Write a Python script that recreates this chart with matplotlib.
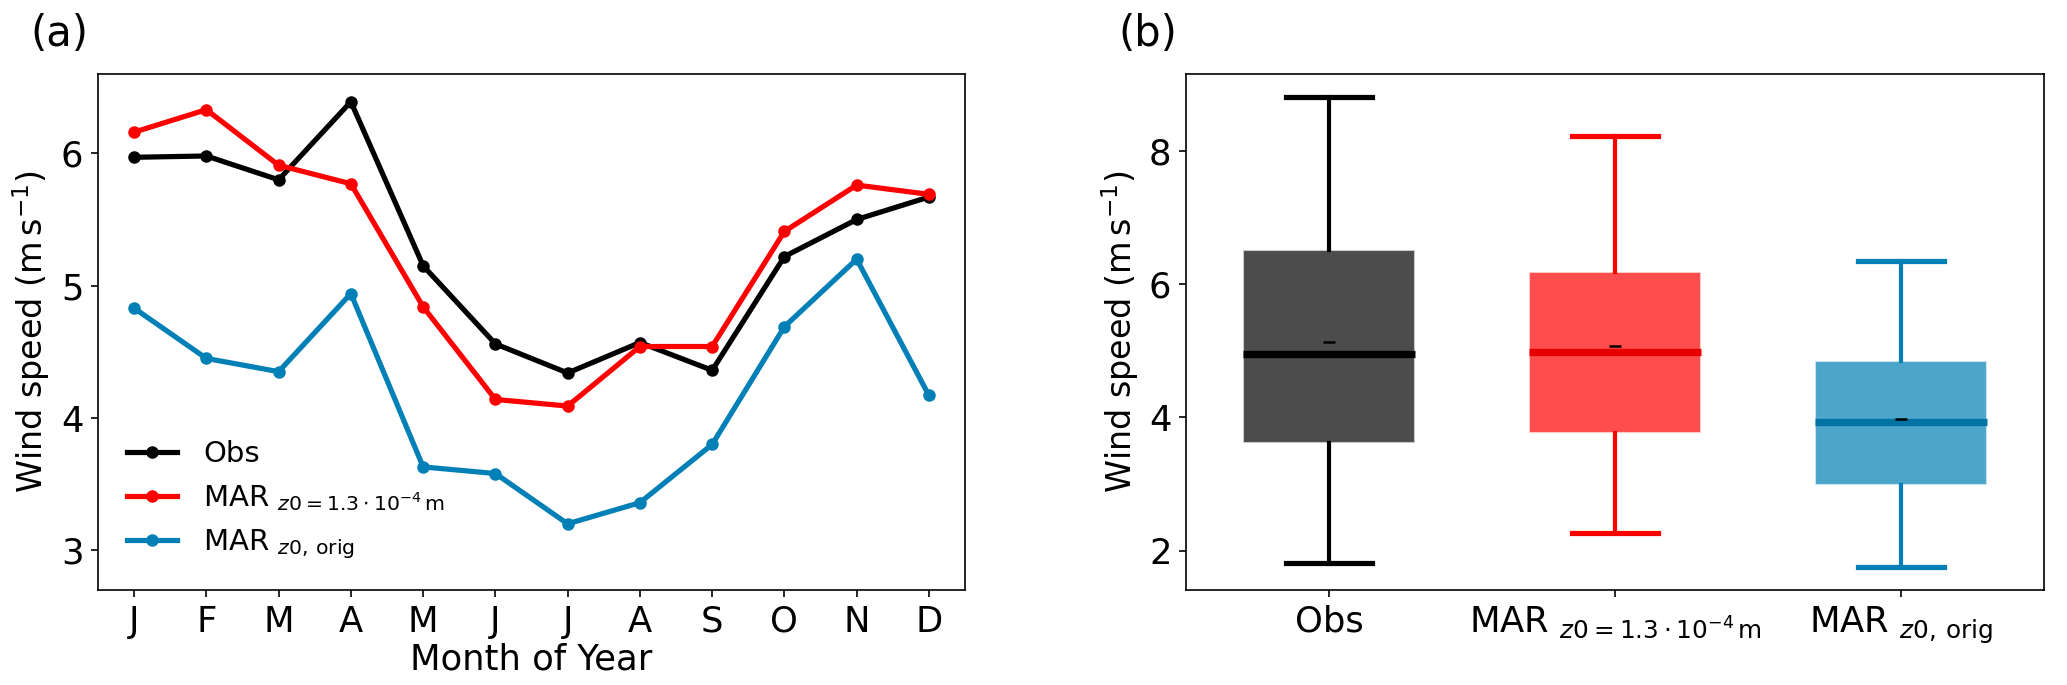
import matplotlib.pyplot as plt
import numpy as np

# monthly mean wind speed (m/s)
months = ['J', 'F', 'M', 'A', 'M', 'J', 'J', 'A', 'S', 'O', 'N', 'D']
obs = [5.97, 5.98, 5.80, 6.39, 5.15, 4.56, 4.34, 4.57, 4.36, 5.22, 5.50, 5.67]
mar_new = [6.16, 6.33, 5.91, 5.77, 4.84, 4.14, 4.09, 4.54, 4.54, 5.41, 5.76, 5.69]
mar_orig = [4.83, 4.45, 4.35, 4.94, 3.63, 3.58, 3.20, 3.36, 3.80, 4.69, 5.20, 4.17]

# box statistics: whisker low, q1, median, q3, whisker high, mean
box_names = ['Obs', 'MAR $_{z0=1.3\\cdot10^{-4}\\,\\mathrm{m}}$', 'MAR $_{z0,\\,\\mathrm{orig}}$']
whislo = [1.82, 2.27, 1.76]
q1 = [3.62, 3.76, 2.99]
med = [4.95, 4.98, 3.93]
q3 = [6.51, 6.18, 4.85]
whishi = [8.80, 8.22, 6.35]
means = [5.13, 5.07, 3.98]

colors = ['black', '#ff0000', '#0080b6']
median_colors = ['black', '#e60000', '#0073a3']

fig = plt.figure(figsize=(13.78, 4.567), dpi=150)
ax1 = fig.add_axes([0.0474, 0.1387, 0.4195, 0.7533])
ax2 = fig.add_axes([0.5738, 0.1387, 0.4151, 0.7533])

# (a) seasonal cycle
x = np.arange(1, 13)
ax1.plot(x, obs, '-o', color=colors[0], lw=2.5, ms=5, label='Obs')
ax1.plot(x, mar_new, '-o', color=colors[1], lw=2.5, ms=5, label=box_names[1])
ax1.plot(x, mar_orig, '-o', color=colors[2], lw=2.5, ms=5, label=box_names[2])
ax1.set_xticks(x)
ax1.set_xticklabels(months)
ax1.set_xlim(0.5, 12.5)
ax1.set_ylim(2.7, 6.6)
ax1.set_yticks([3, 4, 5, 6])
ax1.set_xlabel('Month of Year', fontsize=17, labelpad=2)
ax1.set_ylabel('Wind speed (m$\\,$s$^{-1}$)', fontsize=16)
ax1.tick_params(labelsize=17)
ax1.legend(loc='lower left', frameon=False, fontsize=14, borderaxespad=0.6,
           handlelength=1.7, handletextpad=0.9, labelspacing=0.5)

# (b) distribution
stats = []
for i in range(3):
    stats.append(dict(whislo=whislo[i], q1=q1[i], med=med[i], q3=q3[i],
                      whishi=whishi[i], mean=means[i], fliers=[]))
for i, st in enumerate(stats):
    ax2.bxp([st], positions=[i + 1], widths=0.6, patch_artist=True,
            showmeans=True, showfliers=False,
            boxprops=dict(facecolor=colors[i], alpha=0.7, edgecolor='white', linewidth=1),
            whiskerprops=dict(color=colors[i], lw=2),
            capprops=dict(color=colors[i], lw=2.5),
            medianprops=dict(color=median_colors[i], lw=3.5),
            meanprops=dict(marker='_', markersize=6, markeredgecolor='black',
                           markeredgewidth=1.2))
ax2.set_xlim(0.5, 3.5)
ax2.set_ylim(1.41, 9.15)
ax2.set_yticks([2, 4, 6, 8])
ax2.set_xticks([1, 2, 3])
ax2.set_xticklabels(box_names)
ax2.set_ylabel('Wind speed (m$\\,$s$^{-1}$)', fontsize=16)
ax2.tick_params(labelsize=17)

fig.text(0.0145, 0.95, '(a)', fontsize=20, va='center')
fig.text(0.541, 0.95, '(b)', fontsize=20, va='center')

plt.savefig('out.png', dpi=150)
plt.close()
